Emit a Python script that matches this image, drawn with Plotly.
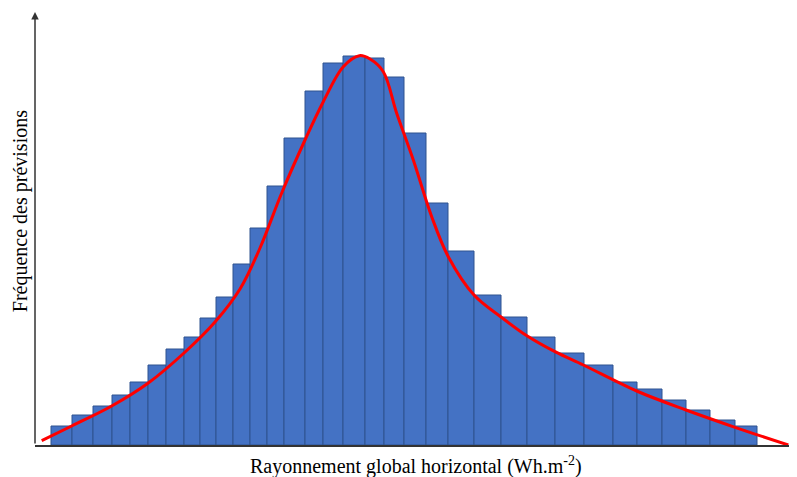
import plotly.graph_objects as go

# bin edges (arbitrary units along the irradiance axis, no ticks shown)
bin_edges = [16, 37, 58, 77, 95, 113, 131, 149, 165, 181, 198, 215, 232, 249,
             270, 288, 308, 330, 349, 369, 391, 413, 439, 466, 492, 520, 549,
             578, 602, 627, 651, 675, 700, 722]
counts = [19, 30, 39, 50, 63, 80, 96, 108, 127, 148, 181, 217, 259, 307, 354,
          382, 389, 387, 368, 312, 242, 194, 150, 128, 108, 92, 80, 63, 56, 45,
          35, 25, 19]

# fitted density curve
curve_x = [6.7, 36.7, 76.7, 113.3, 149, 180, 205, 225, 246.7, 270, 288.3,
           308.3, 324.3, 335, 348.3, 361.7, 378.3, 396.7, 413.3, 439, 465.7,
           492.3, 520, 548.3, 601.7, 651, 700, 753.3]
curve_y = [4.3, 19, 39, 62, 92, 123, 156, 197, 252, 305, 343.3, 378.3, 389.3,
           386, 373.3, 331.7, 285, 228.3, 188.3, 150, 128.3, 109, 93.3, 80,
           54, 35, 17.7, 0]

centers = [(a + b) / 2 for a, b in zip(bin_edges[:-1], bin_edges[1:])]
widths = [b - a for a, b in zip(bin_edges[:-1], bin_edges[1:])]

fig = go.Figure()
fig.add_trace(go.Bar(x=centers, y=counts, width=widths,
                     marker=dict(color="#4472C4",
                                 line=dict(color="#2F528F", width=1))))
fig.add_trace(go.Scatter(x=curve_x, y=curve_y, mode="lines",
                         line=dict(color="#FF0000", width=3, shape="spline",
                                   smoothing=1)))

font = "Liberation Serif, Times New Roman, serif"
# page body adds an 8px margin, so the figure is 8px smaller and shifted
fig.update_layout(
    width=789, height=469,
    margin=dict(l=27, r=0, t=4, b=32),
    plot_bgcolor="white", paper_bgcolor="white",
    showlegend=False,
    xaxis=dict(range=[0, 762], showgrid=False, zeroline=False,
               showticklabels=False, ticks="",
               showline=True, linecolor="#333333", linewidth=1.5),
    yaxis=dict(range=[0, 433], showgrid=False, zeroline=False,
               showticklabels=False, ticks="", showline=False),
    annotations=[
        dict(x=0, y=433, ax=0, ay=0, xref="x", yref="y", axref="x", ayref="y",
             showarrow=True, arrowhead=2, arrowsize=1, arrowwidth=1.5,
             arrowcolor="#333333", standoff=0, text=""),
        dict(x=0.5, y=0, xref="paper", yref="paper", yanchor="middle",
             yshift=-20, showarrow=False,
             text="Rayonnement global horizontal (Wh.m<sup>-2</sup>)",
             font=dict(family=font, size=20, color="black")),
        dict(x=0, y=0.54, xref="paper", yref="paper", xanchor="center",
             xshift=-15, textangle=-90, showarrow=False,
             text="Fréquence des prévisions",
             font=dict(family=font, size=20, color="black")),
    ],
)

fig.write_html("out.html")
